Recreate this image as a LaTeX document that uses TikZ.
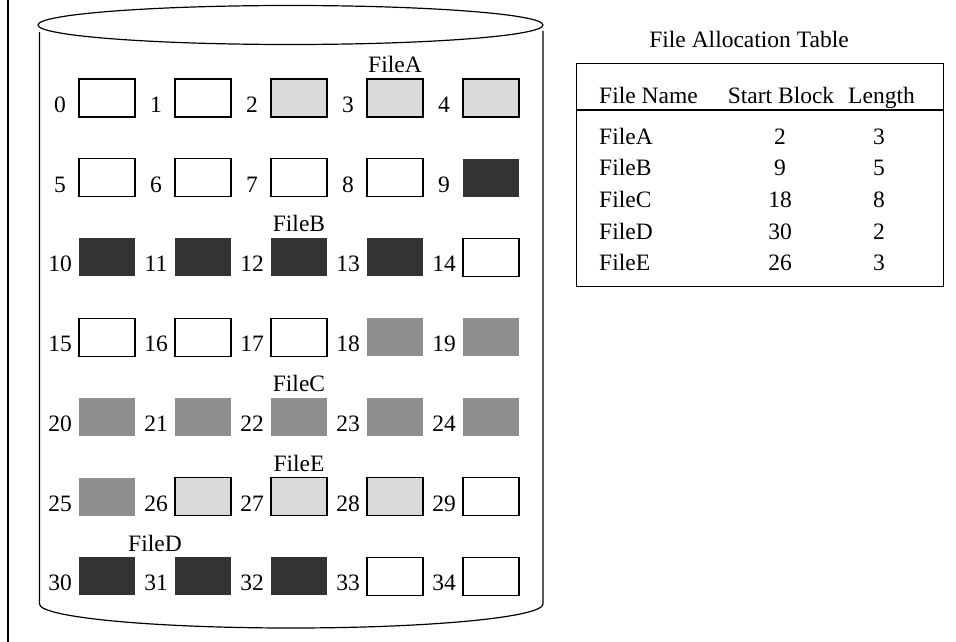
\documentclass[tikz,border=0pt]{standalone}
\usepackage{fontspec}
\setmainfont{Liberation Serif}
\usetikzlibrary{calc}
\definecolor{lightg}{HTML}{D9D9D9}
\definecolor{midg}{HTML}{8F8F8F}
\definecolor{darkg}{HTML}{333333}
\begin{document}
\begin{tikzpicture}[x=1pt,y=-1pt,
  blk/.style={minimum width=56pt,minimum height=38pt,inner sep=0pt,outer sep=0pt,anchor=north west},
  free/.style={blk,draw=black,fill=white,line width=1.1pt},
  fa/.style={blk,draw=black,fill=lightg,line width=1.1pt},
  mid/.style={blk,fill=midg},
  dark/.style={blk,fill=darkg},
  lbl/.style={font=\fontsize{23.5}{28}\selectfont,inner sep=0pt,anchor=base},
  outline/.style={line width=1.2pt,draw=black}]
\useasboundingbox (0,0) rectangle (956,642);

% left frame edge
\draw[line width=1.8pt] (8,0) -- (8,642);

% disk cylinder
\draw[outline] (290.5,25) ellipse [x radius=252.5, y radius=19.5];
\draw[outline] (39.5,32) -- (39.5,604)
  .. controls (39.5,617.25) and (152.2,628) .. (291.25,628)
  .. controls (430.3,628) and (543,617.25) .. (543,604) -- (543,31);

% blocks 0..34
\foreach \i/\s in {0/free,1/free,2/fa,3/fa,4/fa,
                   5/free,6/free,7/free,8/free,9/dark,
                   10/dark,11/dark,12/dark,13/dark,14/free,
                   15/free,16/free,17/free,18/mid,19/mid,
                   20/mid,21/mid,22/mid,23/mid,24/mid,
                   25/mid,26/fa,27/fa,28/fa,29/free,
                   30/dark,31/dark,32/dark,33/free,34/free}{
  \pgfmathsetmacro\bx{79+96*mod(\i,5)}
  \pgfmathsetmacro\by{79+79.7*div(\i,5)}
  \node[\s] (b\i) at (\bx,\by) {};
  \node[lbl] (n\i) at ({\bx-19},{\by+33.5}) {\i};
}

% file labels
\node[lbl] (fA) at ([yshift=6.5pt]b3.north) {FileA};
\node[lbl] (fB) at ([yshift=6.5pt]b12.north) {FileB};
\node[lbl] (fC) at ([yshift=6.5pt]b22.north) {FileC};
\node[lbl] (fE) at ([yshift=6.5pt]b27.north) {FileE};
\node[lbl] (fD) at ([yshift=5.5pt]$(b30.north east)!0.5!(b31.north west)$) {FileD};

% file allocation table
\node[lbl] (title) at (749,47.3) {File Allocation Table};
\node[outline,minimum width=366.5pt,minimum height=223pt,inner sep=0pt,anchor=north west] (fat) at (576,62.7) {};
\coordinate (hl) at (0,110);
\draw[line width=1.2pt] (fat.west |- hl) -- (fat.east |- hl);
\node[lbl,anchor=base west] (hName) at (599,103) {File Name};
\node[lbl] (hStart) at (781,103) {Start Block};
\node[lbl] (hLen) at (881.5,103) {Length};
\foreach \k/\f/\st/\ln in {0/FileA/2/3,1/FileB/9/5,2/FileC/18/8,3/FileD/30/2,4/FileE/26/3}{
  \pgfmathsetmacro\ry{144+31.7*\k}
  \node[lbl,anchor=base west] (r\k name) at (599,\ry) {\f};
  \node[lbl] (r\k start) at (780,\ry) {\st};
  \node[lbl] (r\k len) at (879,\ry) {\ln};
}
\end{tikzpicture}
\end{document}
